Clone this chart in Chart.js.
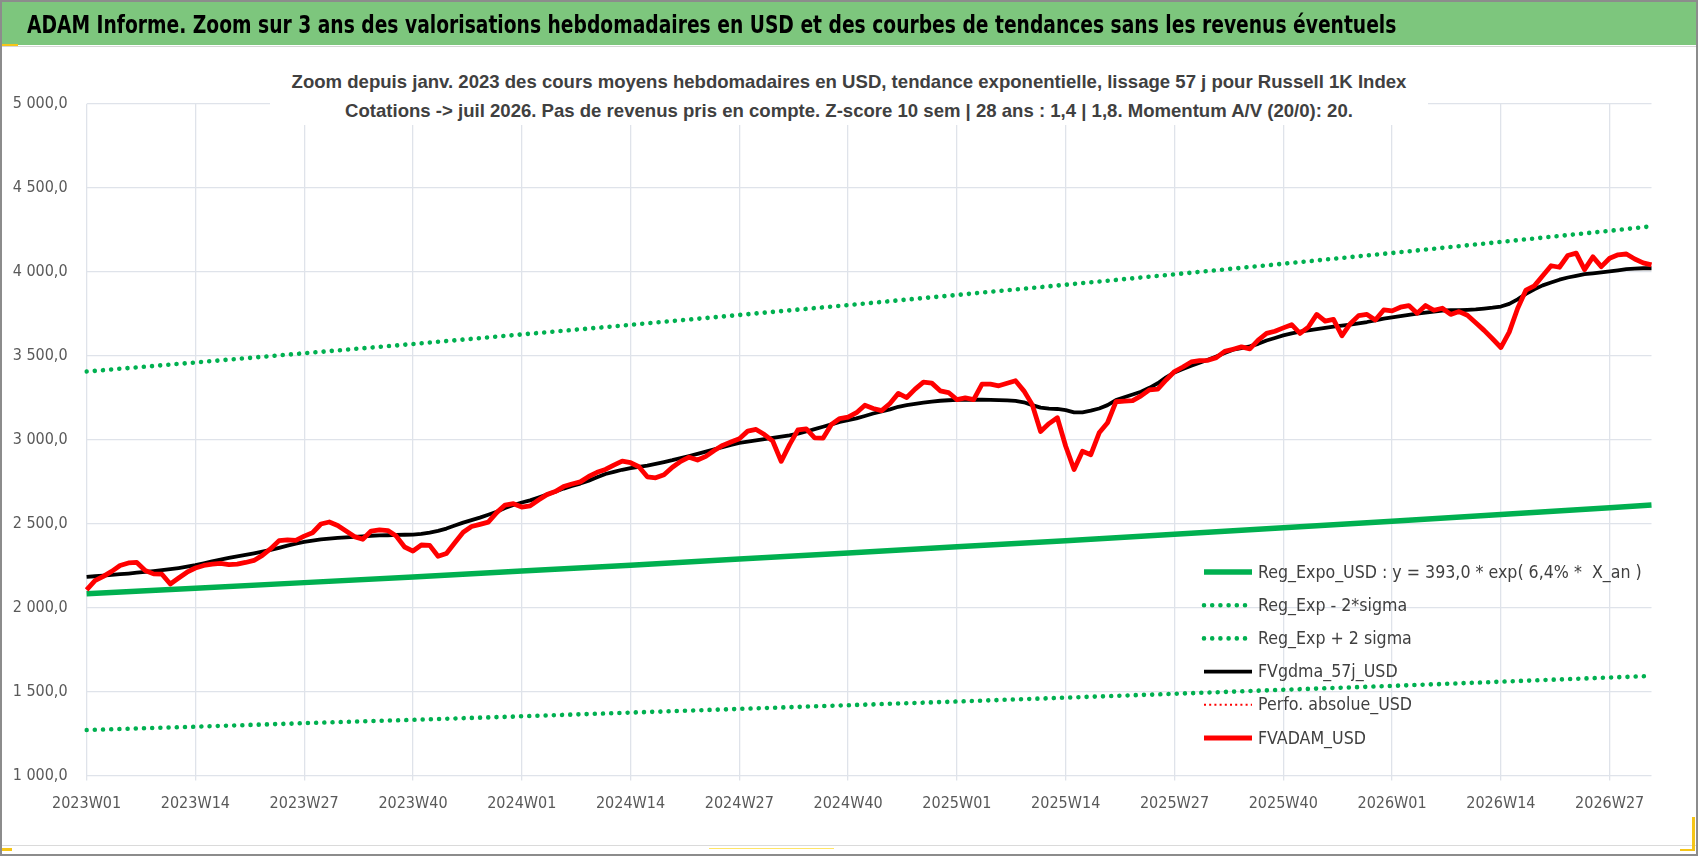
<!DOCTYPE html>
<html lang="fr">
<head>
<meta charset="utf-8">
<title>ADAM Informe - Russell 1K Index</title>
<script src="https://cdn.jsdelivr.net/npm/chart.js@4.4.1/dist/chart.umd.min.js"></script>
<style>
  html, body { margin: 0; padding: 0; background: #fff; }
  #page { position: relative; width: 1698px; height: 856px; overflow: hidden; background: #fff; }
  #graphique { position: absolute; left: 0; top: 0; }
  #bandeau { position: absolute; left: 0; top: 2px; width: 1698px; height: 43px; background: #7dc67d; }
  #titre { position: absolute; left: 27px; top: 3px; line-height: 43px; white-space: nowrap;
           font-family: "Liberation Sans Narrow", "DejaVu Sans Condensed", "Liberation Sans", sans-serif;
           font-weight: bold; font-size: 26px; color: #000;
           transform: scaleY(1.18); transform-origin: 0 60%; }
  #filet-haut { position: absolute; left: 2px; top: 46px; width: 1694px; height: 1px; background: #d6d6d6; }
  #filet-bas { position: absolute; left: 2px; top: 845px; width: 1694px; height: 1px; background: #dadada; }
  #cadre { position: absolute; left: 0; top: 0; width: 1698px; height: 856px; box-sizing: border-box;
           border: 2px solid #8c8c8c; pointer-events: none; }
  #sous-titre { position: absolute; left: 0; top: 67px; width: 1698px; text-align: center; pointer-events: none; }
  #sous-titre .boite { display: inline-block; background: #fff; padding: 0 22px; }
  #sous-titre div.ligne { line-height: 29px; white-space: nowrap; color: #404040; font-weight: bold;
           font-family: "Liberation Sans", Arial, sans-serif; font-size: 17px; }
  .jaune { position: absolute; background: #f5c518; }
</style>
</head>
<body>
<div id="page">
  <canvas id="graphique" width="1698" height="856"></canvas>
  <div id="bandeau"><span id="titre">ADAM Informe. Zoom sur 3 ans des valorisations hebdomadaires en USD et des courbes de tendances sans les revenus éventuels</span></div>
  <div id="filet-haut"></div>
  <div id="sous-titre"><div class="boite">
    <div class="ligne" id="st1">Zoom depuis janv. 2023 des cours moyens hebdomadaires en USD, tendance exponentielle, lissage 57 j pour Russell 1K Index</div>
    <div class="ligne" id="st2">Cotations -&gt; juil 2026. Pas de revenus pris en compte. Z-score 10 sem | 28 ans : 1,4 | 1,8. Momentum A/V (20/0): 20.</div>
  </div></div>
  <div id="filet-bas"></div>
  <div class="jaune" style="left:0;top:44px;width:18px;height:2px"></div>
  <div class="jaune" style="left:0;top:848px;width:12px;height:3px"></div>
  <div class="jaune" style="left:709px;top:848px;width:125px;height:1px;background:#ffe566"></div>
  <div class="jaune" style="left:1692px;top:817px;width:3px;height:34px"></div>
  <div class="jaune" style="left:1680px;top:849px;width:15px;height:2px"></div>
  <div id="cadre"></div>
</div>
<script>
// semaines (catégories) : 2023W01 -> 2026W32
var annees = [2023, 2024, 2025, 2026];
var nbSemaines = 188;
var semaines = [];
annees.forEach(function(a) {
  for (var w = 1; w <= 52; w++) {
    if (semaines.length < nbSemaines) semaines.push(a + 'W' + (w < 10 ? '0' + w : w));
  }
});

// étiquettes affichées sur l'axe X
var etiquettesX = ['2023W01', '2023W14', '2023W27', '2023W40', '2024W01', '2024W14', '2024W27',
  '2024W40', '2025W01', '2025W14', '2025W27', '2025W40', '2026W01', '2026W14', '2026W27'];

var semainesTendance = ['2023W01', '2023W14', '2023W27', '2023W40', '2024W01', '2024W14', '2024W27',
  '2024W40', '2025W01', '2025W14', '2025W27', '2025W40', '2026W01', '2026W14', '2026W27', '2026W32'];
var regExpoUsd = [2082, 2115, 2148, 2182, 2217, 2252, 2288, 2324, 2361, 2398, 2436, 2475, 2514, 2554, 2594, 2610];
var regMoins2Sigma = [1270, 1290, 1311, 1331, 1352, 1374, 1396, 1418, 1440, 1463, 1486, 1510, 1533, 1558, 1583, 1592];
var regPlus2Sigma = [3405, 3459, 3514, 3569, 3626, 3683, 3742, 3801, 3861, 3922, 3984, 4047, 4111, 4177, 4243, 4270];

// moyenne lissée 57 j
var fvGdma57j = [
  2182, 2186, 2190, 2194, 2198, 2202, 2207, 2212, 2217, 2222, 2228, 2235, 2243,
  2252, 2263, 2275, 2285, 2295, 2304, 2313, 2322, 2332, 2343, 2355, 2368, 2380,
  2390, 2398, 2405, 2410, 2414, 2418, 2421, 2424, 2427, 2429, 2430, 2432, 2433,
  2434, 2438, 2446, 2456, 2470, 2488, 2505, 2520, 2535, 2552, 2570, 2592, 2610,
  2625, 2638, 2655, 2672, 2690, 2708, 2724, 2738, 2755, 2775, 2795, 2808, 2820,
  2830, 2838, 2845, 2855, 2866, 2877, 2890, 2902, 2915, 2928, 2942, 2955, 2968,
  2980, 2988, 2995, 3002, 3010, 3017, 3025, 3035, 3048, 3062, 3076, 3090, 3105,
  3116, 3126, 3140, 3155, 3168, 3180, 3195, 3205, 3213, 3220, 3226, 3231, 3234,
  3236, 3237, 3237, 3237, 3236, 3235, 3233, 3230, 3222, 3205, 3190, 3184, 3182,
  3175, 3162, 3162, 3172, 3185, 3205, 3235, 3252, 3268, 3285, 3308, 3335, 3370,
  3400, 3420, 3440, 3458, 3475, 3495, 3515, 3535, 3545, 3555, 3570, 3590, 3605,
  3620, 3632, 3642, 3650, 3658, 3665, 3672, 3678, 3684, 3692, 3700, 3710, 3720,
  3728, 3735, 3742, 3750, 3756, 3762, 3768, 3770, 3770, 3772, 3775, 3780, 3785,
  3792, 3808, 3835, 3868, 3895, 3918, 3935, 3952, 3965, 3975, 3985, 3990, 3996,
  4002, 4008, 4015, 4018, 4020, 4020
];

// valorisation hebdomadaire FVADAM
var fvAdamUsd = [
  2105, 2160, 2185, 2215, 2250, 2265, 2268, 2220, 2200, 2198, 2140, 2175, 2210,
  2235, 2250, 2258, 2262, 2255, 2258, 2268, 2280, 2310, 2350, 2398, 2402, 2400,
  2425, 2445, 2497, 2509, 2488, 2455, 2422, 2406, 2455, 2462, 2458, 2425, 2360,
  2336, 2372, 2370, 2305, 2322, 2385, 2448, 2482, 2495, 2508, 2565, 2610, 2618,
  2598, 2605, 2640, 2672, 2690, 2720, 2735, 2748, 2780, 2805, 2822, 2848, 2872,
  2862, 2838, 2778, 2772, 2790, 2835, 2870, 2895, 2878, 2900, 2935, 2965, 2985,
  3005, 3050, 3060, 3030, 2990, 2870, 2970, 3058, 3064, 3010, 3008, 3090, 3125,
  3133, 3160, 3204, 3185, 3172, 3215, 3275, 3250, 3300, 3342, 3336, 3290, 3280,
  3238, 3248, 3238, 3330, 3330, 3320, 3335, 3350, 3290, 3208, 3048, 3095, 3130,
  2960, 2822, 2930, 2910, 3040, 3100, 3225, 3229, 3232, 3260, 3296, 3300, 3355,
  3405, 3432, 3462, 3470, 3472, 3488, 3525, 3538, 3552, 3540, 3592, 3632, 3645,
  3665, 3684, 3632, 3670, 3745, 3705, 3716, 3618, 3690, 3738, 3745, 3712, 3772,
  3766, 3788, 3798, 3752, 3798, 3770, 3782, 3745, 3762, 3740, 3695, 3650, 3600,
  3548, 3640, 3780, 3890, 3915, 3975, 4035, 4026, 4096, 4110, 4012, 4088, 4030,
  4080, 4100, 4105, 4075, 4052, 4040
];

// série sans valeur visible dans la zone affichée
var perfoAbsolueUsd = [];

function points(cats, vals) {
  return cats.map(function(c, i) { return { x: c, y: vals[i] }; });
}

function nombreFr(v) {
  var p = Number(v).toFixed(1).split('.');
  return p[0].replace(/\B(?=(\d{3})+(?!\d))/g, ' ') + ',' + p[1];
}

// ajuste la taille des titres à la largeur voulue
function ajuster(el, cible) {
  var w = el.getBoundingClientRect().width;
  var fs = parseFloat(getComputedStyle(el).fontSize);
  el.style.fontSize = (fs * cible / w).toFixed(2) + 'px';
  return fs * cible / w;
}
var titre = document.getElementById('titre');
ajuster(titre, 1370);
var st1 = document.getElementById('st1'), st2 = document.getElementById('st2');
st1.style.display = 'inline-block';
var fsSt = ajuster(st1, 1115);
st1.style.display = 'block';
st2.style.fontSize = fsSt.toFixed(2) + 'px';

var policeNarrow = '"Liberation Sans Narrow", "DejaVu Sans Condensed", "Liberation Sans", sans-serif';
var grille = '#dfe3ea';

// légende dessinée dans la zone du graphique, en bas à droite
var legendeInterne = {
  id: 'legendeInterne',
  afterDatasetsDraw: function(chart, args, opts) {
    var ctx = chart.ctx;
    ctx.save();
    var taille = opts.size;
    ctx.font = taille + 'px ' + policeNarrow;
    var w0 = ctx.measureText(chart.data.datasets[0].label).width;
    taille = taille * opts.largeur / w0;
    ctx.font = taille + 'px ' + policeNarrow;
    chart.data.datasets.forEach(function(ds, k) {
      var y = opts.y + k * opts.pas;
      ctx.strokeStyle = ds.borderColor;
      ctx.lineWidth = ds.borderWidth;
      ctx.lineCap = ds.borderCapStyle || 'butt';
      ctx.setLineDash(ds.borderDash || []);
      ctx.beginPath();
      ctx.moveTo(opts.x, y);
      ctx.lineTo(opts.x + opts.echantillon, y);
      ctx.stroke();
      ctx.setLineDash([]);
      ctx.fillStyle = opts.couleur;
      ctx.textBaseline = 'middle';
      ctx.textAlign = 'left';
      ctx.fillText(ds.label, opts.x + opts.echantillon + opts.ecart, y + 1);
    });
    ctx.restore();
  }
};

var ctx = document.getElementById('graphique').getContext('2d');
var chart = new Chart(ctx, {
  type: 'line',
  data: {
    labels: semaines,
    datasets: [{
      label: 'Reg_Expo_USD : y = 393,0 * exp( 6,4% *  X_an )',
      data: points(semainesTendance, regExpoUsd),
      borderColor: '#00b050',
      borderWidth: 5.5,
      order: 5
    }, {
      label: 'Reg_Exp - 2*sigma',
      data: points(semainesTendance, regMoins2Sigma),
      borderColor: '#00b050',
      borderWidth: 4.6,
      borderDash: [0.001, 8.2],
      borderCapStyle: 'round',
      order: 4
    }, {
      label: 'Reg_Exp + 2 sigma',
      data: points(semainesTendance, regPlus2Sigma),
      borderColor: '#00b050',
      borderWidth: 4.6,
      borderDash: [0.001, 8.2],
      borderCapStyle: 'round',
      order: 3
    }, {
      label: 'FVgdma_57j_USD',
      data: fvGdma57j,
      borderColor: '#000000',
      borderWidth: 3.8,
      order: 2
    }, {
      label: 'Perfo. absolue_USD',
      data: perfoAbsolueUsd,
      borderColor: '#ff0000',
      borderWidth: 2,
      borderDash: [2, 3.2],
      order: 1
    }, {
      label: 'FVADAM_USD',
      data: fvAdamUsd,
      borderColor: '#ff0000',
      borderWidth: 4.8,
      order: 0
    }]
  },
  options: {
    responsive: false,
    animation: false,
    events: [],
    layout: { padding: { top: 103.7, right: 46.5, bottom: 0, left: 0 } },
    elements: {
      point: { radius: 0 },
      line: { tension: 0, borderJoinStyle: 'round', fill: false }
    },
    plugins: {
      legend: { display: false },
      title: { display: false },
      tooltip: { enabled: false },
      legendeInterne: {
        x: 1204, y: 572, pas: 33.2, echantillon: 48, ecart: 6,
        size: 21, largeur: 384, couleur: '#404040'
      }
    },
    scales: {
      x: {
        grid: {
          color: function(c) { return c.index % 13 === 0 ? grille : 'rgba(0,0,0,0)'; },
          lineWidth: 1.3,
          tickLength: 5
        },
        border: { display: false },
        ticks: {
          autoSkip: false,
          maxRotation: 0,
          minRotation: 0,
          padding: 14,
          color: '#595959',
          font: { family: policeNarrow, size: 16 },
          callback: function(v) {
            var l = this.getLabelForValue(v);
            return etiquettesX.indexOf(l) >= 0 ? l : '';
          }
        },
        afterFit: function(s) { s.height = 80.6; s.paddingLeft = 0; s.paddingRight = 0; }
      },
      y: {
        min: 1000,
        max: 5000,
        grid: { color: grille, lineWidth: 1.3, drawTicks: false },
        border: { display: false },
        ticks: {
          stepSize: 500,
          padding: 19,
          color: '#595959',
          font: { family: policeNarrow, size: 16 },
          callback: function(v) { return nombreFr(v); }
        },
        afterFit: function(s) { s.width = 86.6; s.paddingTop = 0; s.paddingBottom = 0; }
      }
    }
  },
  plugins: [legendeInterne]
});
</script>
</body>
</html>
